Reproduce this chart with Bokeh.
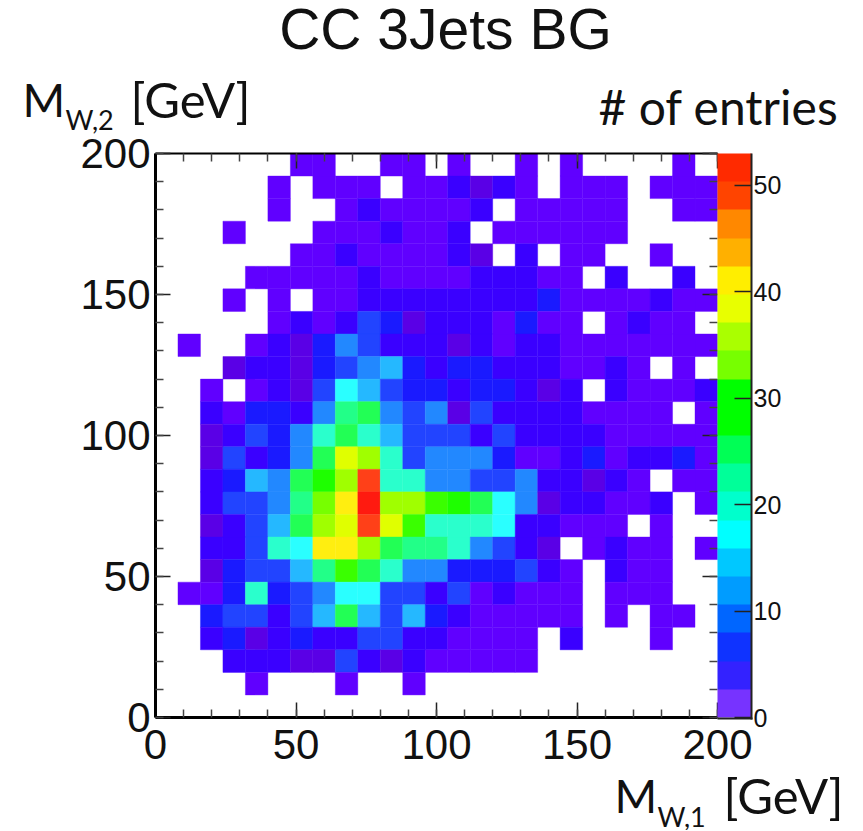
from bokeh.plotting import figure
from bokeh.models import (Range1d, ColumnDataSource, LinearColorMapper, ColorBar, FixedTicker,
                          LinearAxis, Label, BoxAnnotation)
from bokeh.embed import file_html
from bokeh.resources import INLINE

# Entries per 8 GeV bin, rows from M_W,2 = 192-200 (top) down to 0-8
ROW_COUNTS = [
    [0,0,0,0,0,0,1,1,0,0,1,1,0,1,0,0,1,0,1,0,0,0,0,1,0],
    [0,0,0,0,0,1,0,1,1,1,0,1,1,3,2,3,1,0,1,1,1,0,1,1,1],
    [0,0,0,0,0,1,0,0,1,3,1,1,1,1,3,0,1,1,1,1,1,0,0,1,1],
    [0,0,0,1,0,0,0,1,1,1,3,1,1,3,0,1,1,1,1,1,1,0,0,0,0],
    [0,0,0,0,0,0,1,1,3,1,1,1,1,3,2,0,3,0,1,1,0,0,1,0,0],
    [0,0,0,0,1,1,1,1,1,3,1,1,1,1,3,3,3,1,1,0,3,0,0,3,0],
    [0,0,0,1,0,1,0,1,1,3,3,3,3,3,3,3,3,6,1,1,1,1,3,1,1],
    [0,0,0,0,0,1,3,1,3,8,6,2,3,3,3,1,6,1,1,0,1,3,1,1,0],
    [0,1,0,0,1,3,2,6,12,9,3,3,3,2,3,1,3,3,1,1,1,1,1,1,1],
    [0,0,0,2,3,3,2,6,8,12,15,6,4,6,6,3,3,3,1,1,3,1,0,1,0],
    [0,0,1,0,1,3,2,8,17,15,8,6,6,3,6,6,3,2,3,0,3,1,1,1,3],
    [0,0,3,1,6,6,3,12,22,25,12,8,12,2,8,3,3,3,3,1,1,1,1,0,1],
    [0,0,2,3,8,6,12,20,25,20,15,9,9,9,3,8,3,3,3,3,1,1,1,1,1],
    [0,0,2,8,3,6,12,25,36,33,20,9,12,12,12,6,1,1,3,6,1,3,3,6,1],
    [0,0,3,6,15,12,25,29,33,49,20,20,12,12,9,9,12,3,3,2,3,1,0,1,1],
    [0,0,3,8,8,12,23,31,41,52,33,33,28,29,25,17,12,2,3,3,1,1,3,0,1],
    [0,0,2,3,9,15,25,33,36,49,36,28,20,20,20,17,3,3,1,1,1,0,1,0,0],
    [0,0,3,3,9,20,17,41,41,33,25,23,23,20,12,9,3,2,0,1,3,1,1,0,1],
    [0,0,2,6,9,9,15,23,28,25,20,12,12,6,6,6,8,3,1,0,3,1,1,0,0],
    [0,1,1,6,20,6,8,12,17,17,9,9,3,8,1,3,1,1,1,0,1,1,1,0,0],
    [0,0,6,9,9,3,9,15,25,15,8,15,6,3,1,1,1,1,1,0,1,0,1,1,0],
    [0,0,3,6,2,3,6,3,3,8,8,3,3,1,1,1,1,0,3,0,0,0,1,0,0],
    [0,0,0,3,3,3,2,2,8,3,2,3,1,1,1,1,1,0,0,0,0,0,0,0,0],
    [0,0,0,0,1,0,0,0,1,0,0,1,0,0,0,0,0,0,0,0,0,0,0,0,0],
    [0,0,0,0,0,0,0,0,0,0,0,0,0,0,0,0,0,0,0,0,0,0,0,0,0],
]
BIN_WIDTH = 8
AXIS_MAJOR = [0, 50, 100, 150, 200]
AXIS_MINOR = [v for v in range(0, 201, 10)]
BAR_TICKS = [0, 10, 20, 30, 40, 50]
Z_MAX = 53

# colour of a cell: (highest count in the band, colour)
MAP_BANDS = [(1,"#6000ff"),(2,"#5a00e6"),(5,"#3a00ff"),(7,"#1a1aff"),(10,"#2244ff"),(13,"#2288ff"),
             (15,"#25b8ff"),(18,"#2affff"),(21,"#2affcc"),(23,"#22ff88"),(26,"#22ff55"),(28,"#3aff00"),
             (30,"#1eff00"),(31,"#77ff00"),(34,"#a0ff00"),(37,"#e0ff00"),(42,"#ffee10"),(45,"#ffb000"),
             (47,"#ff8800"),(50,"#ff4018"),(53,"#ff1a10")]
BAR_COLORS = ["#7733ff","#3322ff","#0f33ff","#0066ff","#009cff","#00c8ff","#00ffff","#00ffcc","#00ff99","#00ff55",
              "#00ff00","#00ff00","#77ff00","#aaff00","#e8ff00","#ffee00","#ffb000","#ff8800","#ff4400","#ff2a00"]

map_palette = []
for top, col in MAP_BANDS:
    map_palette += [col] * (top - len(map_palette))

left, right, bottom, topv, counts = [], [], [], [], []
for r, row in enumerate(ROW_COUNTS):
    y0 = (len(ROW_COUNTS) - 1 - r) * BIN_WIDTH
    for c, n in enumerate(row):
        if n > 0:
            left.append(c * BIN_WIDTH); right.append((c + 1) * BIN_WIDTH)
            bottom.append(y0); topv.append(y0 + BIN_WIDTH); counts.append(n)
src = ColumnDataSource(dict(left=left, right=right, bottom=bottom, top=topv, n=counts))

# The frame fills the whole canvas, so that nothing placed outside the axes is clipped.
W, H = 858, 830
FL, FT, FW, FH = 155, 153, 562, 564     # where 0..200 x 0..200 lies on the canvas
px_x, px_y = FW / 200, FH / 200
p = figure(width=W, height=H, output_backend="svg", toolbar_location=None,
           x_range=Range1d(-FL / px_x, (W - FL) / px_x),
           y_range=Range1d(-(H - FT - FH) / px_y, 200 + FT / px_y),
           x_axis_location=None, y_axis_location=None,
           min_border_left=0, min_border_top=0, min_border_right=0, min_border_bottom=0)
p.grid.visible = False
p.outline_line_color = None
p.background_fill_color = "white"

cell_map = LinearColorMapper(palette=map_palette, low=0.5, high=53.5)
p.quad(left="left", right="right", bottom="bottom", top="top", source=src,
       fill_color={"field": "n", "transform": cell_map},
       line_color={"field": "n", "transform": cell_map}, line_width=0.4)

def make_axis(at, show_labels, width):
    ax = LinearAxis(ticker=FixedTicker(ticks=AXIS_MAJOR, minor_ticks=AXIS_MINOR), fixed_location=at, bounds=(0, 200))
    ax.major_tick_in = 15; ax.major_tick_out = 0
    ax.minor_tick_in = 8; ax.minor_tick_out = 0
    ax.major_tick_line_width = 1.5; ax.minor_tick_line_width = 1.5
    ax.major_tick_line_color = "#222222"; ax.minor_tick_line_color = "#444444"
    ax.axis_line_color = "black"; ax.axis_line_width = width
    if show_labels:
        ax.major_label_text_font = "Liberation Sans"
        ax.major_label_text_font_size = "42px"
        ax.major_label_text_color = "#111111"
    else:
        ax.major_label_overrides = {t: "" for t in AXIS_MAJOR}
        ax.major_label_standoff = 0
    return ax

left_ax = make_axis(0, True, 3); left_ax.major_label_standoff = 5
bottom_ax = make_axis(0, True, 3); bottom_ax.major_label_standoff = 12
top_ax = make_axis(200, False, 2)
right_ax = make_axis(200, False, 0); right_ax.axis_line_color = None
p.add_layout(left_ax, "left"); p.add_layout(bottom_ax, "below")
p.add_layout(top_ax, "above"); p.add_layout(right_ax, "right")

bar_map = LinearColorMapper(palette=BAR_COLORS, low=0, high=Z_MAX)
cb = ColorBar(color_mapper=bar_map, width=34, height=FH, padding=0, margin=0, location=(FL + FW, H - FT - FH),
              ticker=FixedTicker(ticks=BAR_TICKS), major_tick_in=17, major_tick_line_color="#222222",
              major_tick_line_width=1.5, minor_tick_line_color=None, bar_line_color=None, label_standoff=2,
              major_label_text_font="Liberation Sans", major_label_text_font_size="25px",
              major_label_text_color="#111111", background_fill_color=None)
p.add_layout(cb)

# frame lines of the colour scale (right and bottom edges)
p.add_layout(BoxAnnotation(left=FL+FW+33, right=FL+FW+35, top=FT, bottom=FT+FH+2,
                           left_units="canvas", right_units="canvas", top_units="canvas", bottom_units="canvas",
                           fill_color="#222222", fill_alpha=1, line_color=None))
p.add_layout(BoxAnnotation(left=FL+FW, right=FL+FW+35, top=FT+FH, bottom=FT+FH+2,
                           left_units="canvas", right_units="canvas", top_units="canvas", bottom_units="canvas",
                           fill_color="#222222", fill_alpha=1, line_color=None))

def put(txt, px, base, size, font="Lato", align="left"):
    # px, base: canvas pixels of the text's anchor and baseline; the anchor is the middle of the text
    p.add_layout(Label(x=px, y=base - 0.385 * size, x_units="canvas", y_units="canvas", text=txt, text_font=font,
                       text_font_size=f"{size}px", text_align=align, text_baseline="middle",
                       text_color="#111111"))

put("CC 3Jets BG", 445, 50, 57, font="Liberation Sans", align="center")
put("M", 22, 117, 46)
put("W,2", 65, 129, 27)
put("[GeV]", 130, 117, 49)
put("# of entries", 598, 124, 48)
put("M", 614, 813, 46)
put("W,1", 657, 826, 27)
put("[GeV]", 723, 813, 49)

open("out.html", "w").write(file_html(p, INLINE))
